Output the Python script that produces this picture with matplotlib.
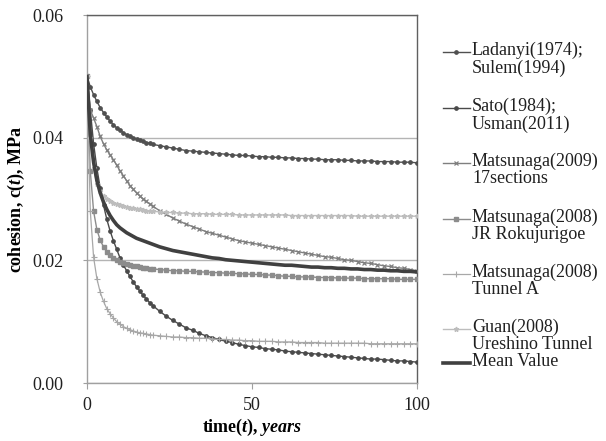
import matplotlib
matplotlib.use("Agg")
import matplotlib.pyplot as plt
from matplotlib.lines import Line2D

plt.rcParams['font.family'] = ['Liberation Serif', 'DejaVu Serif']
plt.rcParams['mathtext.fontset'] = 'custom'
plt.rcParams['mathtext.rm'] = 'Liberation Serif:bold'
plt.rcParams['mathtext.it'] = 'Liberation Serif:bold:italic'
plt.rcParams['mathtext.bf'] = 'Liberation Serif:bold'

# time (years)
t = list(range(0, 21)) + list(range(22, 101, 2))

ladanyi = [0.0500, 0.0483, 0.0470, 0.0459, 0.0449, 0.0441, 0.0434, 0.0427, 0.0421, 0.0416,
           0.0412, 0.0408, 0.0405, 0.0402, 0.0400, 0.0398, 0.0396, 0.0394, 0.0392, 0.0391,
           0.0389, 0.0387, 0.0385, 0.0383, 0.0381, 0.0379, 0.0378, 0.0377, 0.0376, 0.0375,
           0.0374, 0.0373, 0.0372, 0.0371, 0.0371, 0.0370, 0.0369, 0.0369, 0.0368, 0.0368,
           0.0367, 0.0367, 0.0366, 0.0366, 0.0365, 0.0365, 0.0364, 0.0364, 0.0364, 0.0363,
           0.0363, 0.0362, 0.0362, 0.0362, 0.0361, 0.0361, 0.0361, 0.0360, 0.0360, 0.0360,
           0.0359]

sato = [0.0500, 0.0445, 0.0390, 0.0350, 0.0318, 0.0290, 0.0267, 0.0248, 0.0232, 0.0218,
        0.0204, 0.0193, 0.0183, 0.0174, 0.0165, 0.0157, 0.0150, 0.0143, 0.0137, 0.0131,
        0.0126, 0.0117, 0.0109, 0.0102, 0.0096, 0.0090, 0.0086, 0.0081, 0.0077, 0.0074,
        0.0071, 0.0068, 0.0066, 0.0063, 0.0061, 0.0059, 0.0058, 0.0056, 0.0055, 0.0054,
        0.0052, 0.0051, 0.0050, 0.0049, 0.0048, 0.0047, 0.0046, 0.0045, 0.0044, 0.0043,
        0.0042, 0.0041, 0.0040, 0.0039, 0.0039, 0.0038, 0.0037, 0.0036, 0.0036, 0.0035,
        0.0034]

matsu2009 = [0.0500, 0.0445, 0.0432, 0.0418, 0.0402, 0.0390, 0.0380, 0.0372, 0.0364, 0.0355,
             0.0346, 0.0338, 0.0330, 0.0322, 0.0316, 0.0310, 0.0305, 0.0300, 0.0296, 0.0292,
             0.0288, 0.0281, 0.0275, 0.0269, 0.0264, 0.0259, 0.0255, 0.0251, 0.0247, 0.0244,
             0.0241, 0.0238, 0.0235, 0.0232, 0.0230, 0.0228, 0.0226, 0.0224, 0.0222, 0.0220,
             0.0218, 0.0216, 0.0214, 0.0212, 0.0210, 0.0208, 0.0206, 0.0205, 0.0203, 0.0201,
             0.0200, 0.0198, 0.0196, 0.0195, 0.0193, 0.0191, 0.0190, 0.0188, 0.0187, 0.0185,
             0.0183]

jr_roku = [0.0500, 0.0345, 0.0280, 0.0250, 0.0233, 0.0222, 0.0214, 0.0208, 0.0204, 0.0201,
           0.0198, 0.0196, 0.0194, 0.0192, 0.0191, 0.0190, 0.0189, 0.0188, 0.0187, 0.0186,
           0.0186, 0.0185, 0.0184, 0.0183, 0.0183, 0.0182, 0.0182, 0.0181, 0.0181, 0.0180,
           0.0180, 0.0179, 0.0179, 0.0178, 0.0178, 0.0177, 0.0177, 0.0176, 0.0176, 0.0175,
           0.0174, 0.0174, 0.0173, 0.0173, 0.0173, 0.0172, 0.0172, 0.0172, 0.0171, 0.0171,
           0.0171, 0.0171, 0.0170, 0.0170, 0.0170, 0.0170, 0.0170, 0.0169, 0.0169, 0.0169,
           0.0169]

tunnel_a = [0.0500, 0.0280, 0.0205, 0.0170, 0.0148, 0.0133, 0.0121, 0.0113, 0.0106, 0.0100,
            0.0096, 0.0092, 0.0089, 0.0087, 0.0085, 0.0083, 0.0082, 0.0081, 0.0080, 0.0079,
            0.0078, 0.0077, 0.0076, 0.0075, 0.0075, 0.0074, 0.0074, 0.0073, 0.0073, 0.0072,
            0.0071, 0.0071, 0.0070, 0.0070, 0.0069, 0.0069, 0.0068, 0.0068, 0.0068, 0.0067,
            0.0067, 0.0067, 0.0066, 0.0066, 0.0066, 0.0066, 0.0065, 0.0065, 0.0065, 0.0065,
            0.0065, 0.0065, 0.0065, 0.0064, 0.0064, 0.0064, 0.0064, 0.0064, 0.0064, 0.0064,
            0.0064]

guan = [0.0500, 0.0400, 0.0350, 0.0325, 0.0313, 0.0305, 0.0300, 0.0297, 0.0294, 0.0292,
        0.0290, 0.0289, 0.0287, 0.0286, 0.0285, 0.0284, 0.0283, 0.0282, 0.0281, 0.0281,
        0.0280, 0.0279, 0.0278, 0.0278, 0.0277, 0.0277, 0.0276, 0.0276, 0.0276, 0.0275,
        0.0275, 0.0275, 0.0275, 0.0274, 0.0274, 0.0274, 0.0274, 0.0274, 0.0274, 0.0274,
        0.0274, 0.0273, 0.0273, 0.0273, 0.0273, 0.0273, 0.0273, 0.0273, 0.0273, 0.0273,
        0.0273, 0.0272, 0.0272, 0.0272, 0.0272, 0.0272, 0.0272, 0.0272, 0.0272, 0.0272,
        0.0272]

mean_val = [0.0500, 0.0405, 0.0360, 0.0330, 0.0310, 0.0295, 0.0283, 0.0273, 0.0265, 0.0258,
            0.0253, 0.0249, 0.0245, 0.0242, 0.0239, 0.0236, 0.0234, 0.0232, 0.0230, 0.0228,
            0.0226, 0.0222, 0.0219, 0.0216, 0.0214, 0.0212, 0.0210, 0.0208, 0.0206, 0.0204,
            0.0203, 0.0201, 0.0200, 0.0199, 0.0198, 0.0197, 0.0196, 0.0195, 0.0194, 0.0193,
            0.0192, 0.0192, 0.0191, 0.0190, 0.0189, 0.0189, 0.0188, 0.0188, 0.0187, 0.0187,
            0.0186, 0.0186, 0.0185, 0.0185, 0.0184, 0.0184, 0.0183, 0.0183, 0.0182, 0.0182,
            0.0181]

labels = ["Ladanyi(1974);\nSulem(1994)", "Sato(1984);\nUsman(2011)",
          "Matsunaga(2009)\n17sections", "Matsunaga(2008)\nJR Rokujurigoe",
          "Matsunaga(2008)\nTunnel A", "Guan(2008)\nUreshino Tunnel", "Mean Value"]

styles = [
    dict(color='#505050', marker='o', ms=2.4, lw=1.0),
    dict(color='#4a4a4a', marker='o', ms=2.4, lw=1.0),
    dict(color='#7f7f7f', marker='x', ms=3.0, lw=1.0, mew=0.9),
    dict(color='#8c8c8c', marker='s', ms=2.2, lw=1.0),
    dict(color='#a8a8a8', marker='+', ms=4.5, lw=0.9, mew=0.8),
    dict(color='#bdbdbd', marker='*', ms=3.5, lw=1.0),
    dict(color='#404040', marker=None, lw=2.6),
]
series = [ladanyi, sato, matsu2009, jr_roku, tunnel_a, guan, mean_val]

FS = 13
W, H = 606, 441
fig = plt.figure(figsize=(W / 100, H / 100), dpi=100)
ax = fig.add_axes([87 / W, 1 - 383 / H, (417 - 87) / W, (383 - 15) / H])

for ys, st in zip(series, styles):
    ax.plot(t, ys, **st, zorder=3)

ax.set_xlim(0, 100)
ax.set_ylim(0, 0.06)
ax.set_xticks([0, 50, 100])
ax.set_yticks([0.00, 0.02, 0.04, 0.06])
ax.set_yticklabels(['0.00', '0.02', '0.04', '0.06'])
ax.yaxis.grid(True, color='#b4b4b4', lw=1.0)
ax.set_axisbelow(True)
for s in ['left', 'bottom']:
    ax.spines[s].set_color('#a0a0a0')
    ax.spines[s].set_linewidth(1.0)
for s in ['top', 'right']:
    ax.spines[s].set_color('#606060')
    ax.spines[s].set_linewidth(1.0)
ax.tick_params(axis='x', direction='out', length=4, color='#a0a0a0', pad=6, labelsize=FS,
               labelcolor='#202020')
ax.tick_params(axis='y', direction='out', length=3, color='#a0a0a0', pad=14, labelsize=FS,
               labelcolor='#202020')

ax.set_xlabel(r'time($t$), $years$', fontsize=FS, fontweight='bold', labelpad=2)
ax.set_ylabel(r'cohesion, c($t$), MPa', fontsize=FS, fontweight='bold', labelpad=4)

# legend drawn in figure pixel space
y_first = [52, 108, 163, 219, 274, 329]
y_mean = 363
for i, (lab, st) in enumerate(zip(labels, styles)):
    yc = y_first[i] if i < 6 else y_mean
    yf = 1 - yc / H
    x0, x1 = 443 / W, 470 / W
    kw = {k: v for k, v in st.items() if k != 'marker'}
    ln = Line2D([x0, (x0 + x1) / 2, x1], [yf, yf, yf], transform=fig.transFigure,
                marker=st.get('marker'), markevery=[1], **kw)
    fig.add_artist(ln)
    fig.text(472 / W, 1 - (yc - 10) / H, lab, fontsize=FS, va='top', ha='left',
             linespacing=1.0, color='#202020')

fig.savefig('out.png', dpi=100)
